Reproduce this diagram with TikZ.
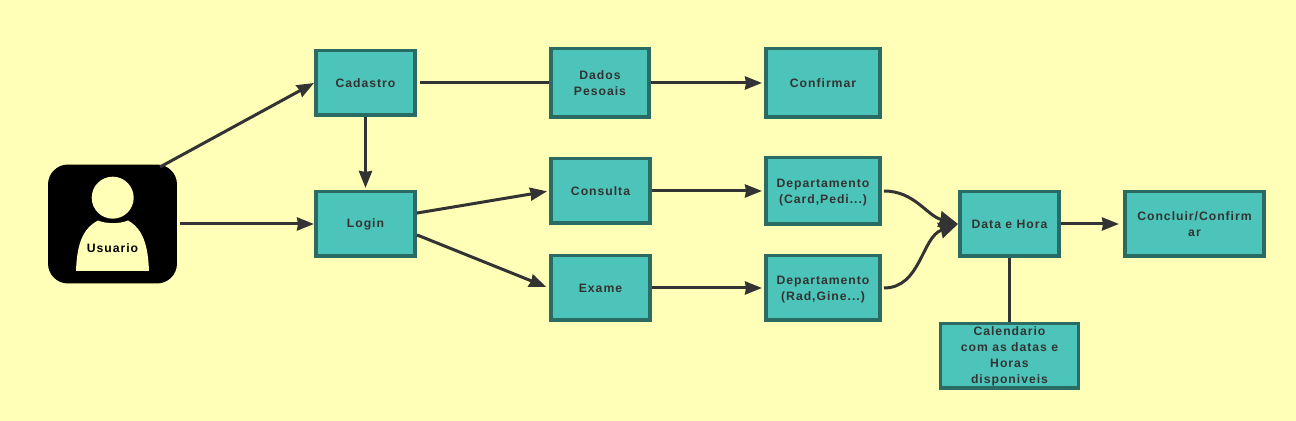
\documentclass[tikz,border=0pt]{standalone}
\usepackage{fontspec}
\setmainfont[LetterSpace=8]{Liberation Sans Bold}
\usetikzlibrary{arrows.meta}
\definecolor{bgCol}{HTML}{FFFFB8}
\definecolor{boxCol}{HTML}{4DC4B9}
\definecolor{borderCol}{HTML}{2A6B63}
\definecolor{linedark}{HTML}{333333}

\begin{document}
\begin{tikzpicture}[
    x=0.02cm, y=-0.02cm,
    >={Stealth[length=0.34cm, width=0.26cm, inset=0.02cm]},
    boxnode/.style={draw=borderCol, fill=boxCol, line width=0.07cm, text=linedark, align=center,
        inner sep=0pt, minimum width=1.99cm, minimum height=1.29cm, font=\fontsize{6.95}{9.07}\selectfont},
    widenode/.style={boxnode, minimum width=2.29cm, minimum height=1.33cm, text depth=0pt},
    link/.style={draw=linedark, line width=0.06cm},
    bigtip/.style={-{Stealth[length=0.38cm, width=0.32cm, inset=0.02cm]}}
]

% --- 1. BACKGROUND ---
\fill[bgCol] (0,0) rectangle (1296,421);
\useasboundingbox (0,0) rectangle (1296,421);

% --- 2. USER ICON ---
\node[fill=black, rounded corners=0.4cm, inner sep=0pt, minimum width=2.58cm, minimum height=2.38cm] (user) at (112.5,224) {};
\fill[bgCol] (112.7,197.7) circle (21);
\fill[bgCol] (76,271) .. controls (77,245) and (82,229) .. (98,220.5)
    .. controls (106,224) and (120,224) .. (128,220.5)
    .. controls (143,229) and (148,245) .. (149,271) -- cycle;
\node[text=black, inner sep=0pt, font=\fontsize{6.95}{9.07}\selectfont] (userlabel) at (112.5,248) {Usuario};
\coordinate (userTop) at (160,167);

% --- 3. BOXES ---
\node[boxnode] (cadastro) at (365.5,83) {Cadastro};
\node[boxnode] (login) at (365.5,224) {Login};
\node[boxnode, minimum width=1.97cm, minimum height=1.37cm] (dados) at (600,83) {Dados\\Pesoais};
\node[boxnode, minimum width=2.29cm, minimum height=1.37cm] (confirmar) at (823,83) {Confirmar};
\node[boxnode] (consulta) at (600.5,191) {Consulta};
\node[widenode] (depA) at (823,191) {Departamento\\(Card,Pedi...)};
\node[boxnode] (exame) at (600.5,288) {Exame};
\node[widenode, minimum height=1.29cm] (depB) at (823,288) {Departamento\\(Rad,Gine...)};
\node[boxnode] (data) at (1009.5,224) {Data e Hora};
\node[boxnode, minimum width=2.79cm] (concluir) at (1194.5,224) {Concluir/Confirm\\ar};
\node[boxnode, minimum width=2.77cm] (calendario) at (1009.5,356) {Calendario\\com as datas e\\Horas\\disponiveis};

% --- 4. CONNECTORS ---
\draw[link, ->] (userTop) -- (cadastro.west);
\draw[link, ->, shorten <=0.06cm] (user.east) -- (login.west);
\draw[link, ->, shorten >=0.04cm] (cadastro) -- (login);
\draw[link, shorten <=0.06cm] (cadastro.east) -- (dados.west);
\draw[link, ->, shorten >=0.04cm] (dados.east) -- (confirmar.west);
\draw[link, ->, shorten >=0.04cm] (login.12) -- (consulta.west);
\draw[link, ->, shorten >=0.06cm] (login.-12) -- (exame.west);
\draw[link, ->, shorten >=0.04cm] (consulta.east) -- (depA.west);
\draw[link, ->, shorten >=0.04cm] (exame.east) -- (depB.west);
\draw[link, bigtip, shorten <=0.04cm] (depA.east) to[out=0, in=165] (data.west);
\draw[link, bigtip, shorten <=0.04cm] (depB.east) to[out=0, in=200] (data.west);
\draw[link, ->, shorten >=0.08cm] (data.east) -- (concluir.west);
\draw[link] (data) -- (calendario);

\end{tikzpicture}
\end{document}
